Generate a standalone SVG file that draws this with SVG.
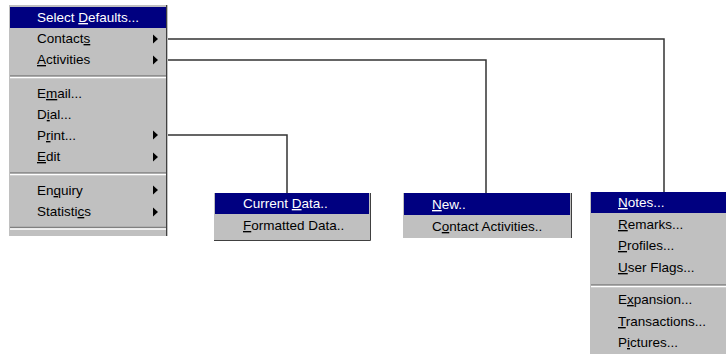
<svg xmlns="http://www.w3.org/2000/svg" width="726" height="354" viewBox="0 0 726 354">
<style>
.menu{fill:#c0c0c0}
.hl{fill:#000080}
.t{font-family:"Liberation Sans",Arial,sans-serif;font-size:13.5px;fill:#000}
.tw{font-family:"Liberation Sans",Arial,sans-serif;font-size:13.5px;fill:#fff}
.u{text-decoration:underline}
.dk{stroke:#808080;stroke-width:1.5;fill:none}
.lt{stroke:#fff;stroke-width:1.5;fill:none}
.edge{stroke:#404040;stroke-width:1;fill:none}
.arr{fill:#000}
.conn{stroke:#333;stroke-width:1.5;fill:none}
</style>
<rect width="726" height="354" fill="#fff"/>
<g id="connectors">
<polyline class="conn" points="168,39 664,39 664,192"/>
<polyline class="conn" points="168,60 486,60 486,193"/>
<polyline class="conn" points="168,135 287,135 287,193"/>
</g>
<g id="main-menu">
<rect class="menu" x="9" y="5" width="159" height="231"/>
<path class="edge" d="M166.5,5 V236"/>
<rect class="hl" x="10" y="7" width="156" height="21"/>
<text class="tw" x="37" y="22">Select <tspan class="u">D</tspan>efaults...</text>
<text class="t" x="37" y="43">Contact<tspan class="u">s</tspan></text>
<text class="t" x="37" y="64"><tspan class="u">A</tspan>ctivities</text>
<path class="dk" d="M10,76 H166"/><path class="lt" d="M10,77.5 H166"/>
<text class="t" x="37" y="98">E<tspan class="u">m</tspan>ail...</text>
<text class="t" x="37" y="119">D<tspan class="u">i</tspan>al...</text>
<text class="t" x="37" y="140">P<tspan class="u">r</tspan>int...</text>
<text class="t" x="37" y="161"><tspan class="u">E</tspan>dit</text>
<path class="dk" d="M10,173 H166"/><path class="lt" d="M10,174.5 H166"/>
<text class="t" x="37" y="195">En<tspan class="u">q</tspan>uiry</text>
<text class="t" x="37" y="216">Statisti<tspan class="u">c</tspan>s</text>
<path class="dk" d="M10,227.5 H166"/><path class="lt" d="M10,229 H166"/>
<path class="arr" d="M153,34.5 L158,39 L153,43.5 Z"/>
<path class="arr" d="M153,55.5 L158,60 L153,64.5 Z"/>
<path class="arr" d="M153,130.5 L158,135 L153,139.5 Z"/>
<path class="arr" d="M153,152.5 L158,157 L153,161.5 Z"/>
<path class="arr" d="M153,185.5 L158,190 L153,194.5 Z"/>
<path class="arr" d="M153,207.5 L158,212 L153,216.5 Z"/>
</g>
<g id="print-menu">
<rect class="menu" x="214" y="193" width="157" height="47"/>
<path class="edge" d="M370.5,193 V240.5 H214"/>
<rect class="hl" x="215" y="193" width="154" height="21"/>
<text class="tw" x="243" y="208">Current <tspan class="u">D</tspan>ata..</text>
<text class="t" x="243" y="230"><tspan class="u">F</tspan>ormatted Data..</text>
</g>
<g id="activities-menu">
<rect class="menu" x="403" y="193" width="169" height="45"/>
<path class="edge" d="M571.5,193 V238"/>
<rect class="hl" x="404" y="193" width="166" height="22"/>
<text class="tw" x="432" y="209"><tspan class="u">N</tspan>ew..</text>
<text class="t" x="432" y="231">C<tspan class="u">o</tspan>ntact Activities..</text>
</g>
<g id="contacts-menu">
<rect class="menu" x="590" y="192" width="136" height="162"/>
<rect class="hl" x="591" y="192" width="135" height="21"/>
<text class="tw" x="618" y="207"><tspan class="u">N</tspan>otes...</text>
<text class="t" x="618" y="229"><tspan class="u">R</tspan>emarks...</text>
<text class="t" x="618" y="250"><tspan class="u">P</tspan>rofiles...</text>
<text class="t" x="618" y="272"><tspan class="u">U</tspan>ser Flags...</text>
<path class="dk" d="M591,285 H726"/><path class="lt" d="M591,286.5 H726"/>
<text class="t" x="618" y="304">E<tspan class="u">x</tspan>pansion...</text>
<text class="t" x="618" y="326"><tspan class="u">T</tspan>ransactions...</text>
<text class="t" x="618" y="347">P<tspan class="u">i</tspan>ctures...</text>
</g>
</svg>
